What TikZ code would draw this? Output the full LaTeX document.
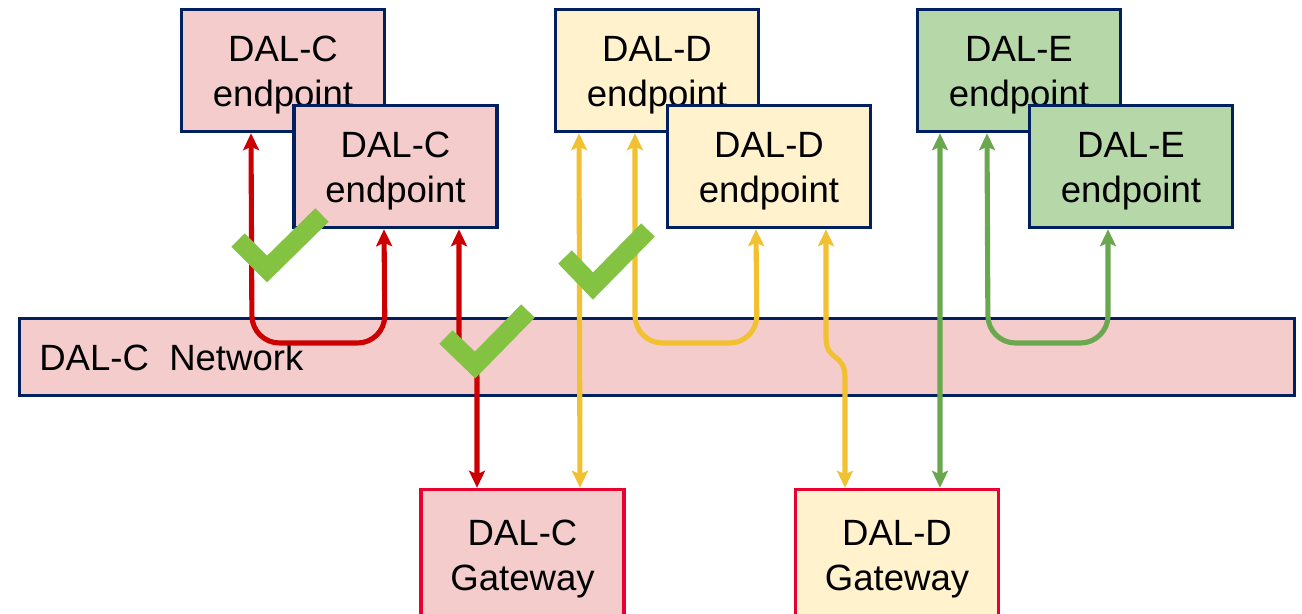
\documentclass[tikz,border=0pt]{standalone}
\usepackage{fontspec}
\setmainfont{Liberation Sans}
\usetikzlibrary{arrows.meta}

\definecolor{navy}{RGB}{0,32,96}
\definecolor{gwred}{RGB}{232,0,48}
\definecolor{pinkfill}{RGB}{244,204,204}
\definecolor{yellowfill}{RGB}{255,242,204}
\definecolor{greenfill}{RGB}{182,215,168}
\definecolor{linkred}{RGB}{204,0,0}
\definecolor{linkyellow}{RGB}{242,193,50}
\definecolor{linkgreen}{RGB}{106,168,79}
\definecolor{tick}{RGB}{132,194,65}

% two-line box label; the strut on the first line sets the text a little lower
\newcommand\boxlabel[2]{\rule{0pt}{20pt}#1\\#2}

\tikzset{
  box/.style={draw=navy, line width=2pt, rectangle, inner sep=0pt,
    align=center, font=\fontsize{20.8}{25.5}\selectfont},
  endpointbox/.style={box, minimum width=4.06cm, minimum height=2.44cm},
  gatewaybox/.style={box, draw=gwred, minimum width=4.07cm, minimum height=2.6cm},
  link/.style={line width=2.9pt, {Stealth[length=0.34cm,width=0.32cm,inset=0.07cm]}-{Stealth[length=0.34cm,width=0.32cm,inset=0.07cm]}},
  redlink/.style={link, draw=linkred},
  yellowlink/.style={link, draw=linkyellow},
  greenlink/.style={link, draw=linkgreen},
  okmark/.style={draw=tick, line width=10.8pt, line cap=butt, line join=miter}
}

\begin{document}
\begin{tikzpicture}[x=0.02cm, y=-0.02cm]
  \useasboundingbox (0,0) rectangle (1302,613);
  \clip (0,0) rectangle (1302,613);

  % endpoints (back row, then the overlapping front row)
  \node[endpointbox, fill=pinkfill]   (backC)  at (283,70.5)    {\boxlabel{DAL-C}{endpoint}};
  \node[endpointbox, fill=pinkfill]   (frontC) at (395.5,166.5) {\boxlabel{DAL-C}{endpoint}};
  \node[endpointbox, fill=yellowfill] (backD)  at (657,70.5)    {\boxlabel{DAL-D}{endpoint}};
  \node[endpointbox, fill=yellowfill] (frontD) at (769,166.5)   {\boxlabel{DAL-D}{endpoint}};
  \node[endpointbox, fill=greenfill]  (backE)  at (1019,70.5)   {\boxlabel{DAL-E}{endpoint}};
  \node[endpointbox, fill=greenfill]  (frontE) at (1131,166.5)  {\boxlabel{DAL-E}{endpoint}};

  % network bar
  \node[box, fill=pinkfill, minimum width=25.5cm, minimum height=1.54cm] (net) at (657,357) {};
  \node[font=\fontsize{20.8}{25.5}\selectfont, anchor=west, inner sep=0pt] (netlabel)
    at (39,357) {DAL-C\ \ Network};

  % gateways
  \node[gatewaybox, fill=pinkfill]   (gwC) at (522.5,554.5) {\boxlabel{DAL-C}{Gateway}};
  \node[gatewaybox, fill=yellowfill] (gwD) at (897,554.5)   {\boxlabel{DAL-D}{Gateway}};

  % DAL-C links
  \draw[redlink, rounded corners=0.55cm]
    ([xshift=-0.64cm]backC.south) -- (252,343) -- (385,343) -- ([xshift=-0.23cm]frontC.south);
  \draw[redlink]
    ([xshift=1.27cm]frontC.south) -- (459,335) .. controls (459,358) and (477,355) .. (477,378)
    -- ([xshift=-0.91cm]gwC.north);

  % DAL-D links
  \draw[yellowlink]
    ([xshift=-1.56cm]backD.south) -- ([xshift=1.15cm]gwC.north);
  \draw[yellowlink, rounded corners=0.55cm]
    ([xshift=-0.44cm]backD.south) -- (635,343) -- (757,343) -- ([xshift=-0.26cm]frontD.south);
  \draw[yellowlink]
    ([xshift=1.14cm]frontD.south) -- (826,338) .. controls (826,362) and (845,352) .. (845,378)
    -- ([xshift=-1.04cm]gwD.north);

  % DAL-E links
  \draw[greenlink]
    ([xshift=-1.58cm]backE.south) -- ([xshift=0.86cm]gwD.north);
  \draw[greenlink, rounded corners=0.55cm]
    ([xshift=-0.64cm]backE.south) -- (988,343) -- (1108,343) -- ([xshift=-0.46cm]frontE.south);

  % check marks
  \draw[okmark] (238,240) -- (267,269) -- (322,215);
  \draw[okmark] (446,337) -- (475,365) -- (528,311);
  \draw[okmark] (565,257) -- (593,286) -- (648,230);
\end{tikzpicture}
\end{document}
